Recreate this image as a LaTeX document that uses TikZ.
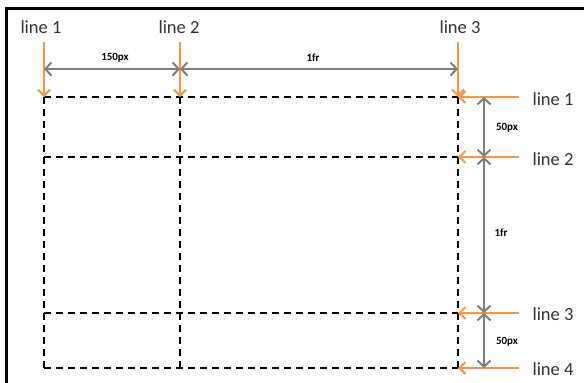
\documentclass[tikz,border=0pt]{standalone}
\usepackage{fontspec}
\setmainfont{Carlito}
\usetikzlibrary{arrows.meta}
\definecolor{org}{RGB}{247,150,70}
\definecolor{dimgray}{RGB}{128,128,128}
\tikzset{
  gridline/.style={black, line width=2pt, dash pattern=on 7pt off 5pt},
  orangearrow/.style={org, line width=2pt, -{Straight Barb[length=6pt,width=12pt,line width=2pt]}},
  dimarrow/.style={dimgray, line width=2.5pt, {Straight Barb[length=6pt,width=13pt,line width=2pt]}-{Straight Barb[length=6pt,width=13pt,line width=2pt]}},
  linelabel/.style={font=\fontsize{18.5}{18.5}\selectfont, inner sep=0pt, text=black!80},
  dimlabel/.style={font=\bfseries\fontsize{11}{11}\selectfont, inner sep=0pt}
}
\begin{document}
\begin{tikzpicture}[x=1pt,y=-1pt]
\useasboundingbox (0,0) rectangle (584,383);
% frame
\draw[line width=3pt] (6,390) -- (6,8) -- (590,8);
% grid coordinates
\foreach \c/\x in {a/44,b/180,c/458}{
  \foreach \r/\y in {1/97,2/157,3/313,4/368}{
    \coordinate (\c\r) at (\x,\y);
  }
}
% dashed grid
\draw[gridline] (a1) -- (c1);
\draw[gridline] (a2) -- (c2);
\draw[gridline] (a3) -- (c3);
\draw[gridline] (a4) -- (c4);
\draw[gridline] (a1) -- (a4);
\draw[gridline] (b1) -- (b4);
\draw[gridline] (c1) -- (c4);
% top labels
\node[linelabel] (t1) at (41,27) {line 1};
\node[linelabel] (t2) at (179,27) {line 2};
\node[linelabel] (t3) at (460,27) {line 3};
\coordinate (t1s) at (44,42);
\coordinate (t2s) at (180,42);
\coordinate (t3s) at (458,42);
\draw[orangearrow] (t1s) -- (a1);
\draw[orangearrow] (t2s) -- (b1);
\draw[orangearrow] (t3s) -- (c1);
% right labels
\node[linelabel] (r1) at (553,99) {line 1};
\node[linelabel] (r2) at (553,159) {line 2};
\node[linelabel] (r3) at (553,314) {line 3};
\node[linelabel] (r4) at (553,369) {line 4};
\foreach \r/\y in {1/97,2/157,3/313,4/368}{
  \coordinate (rs\r) at (519,\y);
}
\draw[orangearrow] (rs1) -- (c1);
\draw[orangearrow] (rs2) -- (c2);
\draw[orangearrow] (rs3) -- (c3);
\draw[orangearrow] (rs4) -- (c4);
% top dimensions
\coordinate (da) at (44,69);
\coordinate (db) at (180,69);
\coordinate (dc) at (458,69);
\draw[dimarrow] (da) -- (db);
\draw[dimarrow] (db) -- (dc);
\node[dimlabel] (l150) at (115,58) {150px};
\node[dimlabel] (l1fr) at (313,58) {1fr};
% right dimensions
\coordinate (v1) at (484,97);
\coordinate (v2) at (484,157);
\coordinate (v3) at (484,313);
\coordinate (v4) at (484,368);
\draw[dimarrow] (v1) -- (v2);
\draw[dimarrow] (v2) -- (v3);
\draw[dimarrow] (v3) -- (v4);
\node[dimlabel] (r50a) at (507,128) {50px};
\node[dimlabel] (r1fr) at (501,233) {1fr};
\node[dimlabel] (r50b) at (507,342) {50px};
\end{tikzpicture}
\end{document}
